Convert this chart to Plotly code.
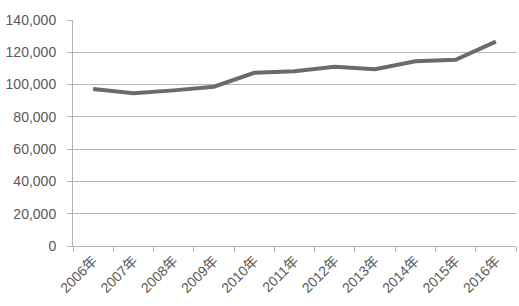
import plotly.graph_objects as go

years = ["2006年", "2007年", "2008年", "2009年", "2010年", "2011年",
         "2012年", "2013年", "2014年", "2015年", "2016年"]
values = [97200, 94600, 96400, 98700, 107300, 108300,
          111100, 109500, 114400, 115400, 126600]
y_ticks = [0, 20000, 40000, 60000, 80000, 100000, 120000, 140000]

font_family = "Liberation Sans, Noto Sans CJK SC, sans-serif"
text_color = "#595959"
grid_color = "#b4b4b4"

fig = go.Figure()
fig.add_trace(go.Scatter(
    x=years, y=values, mode="lines",
    line=dict(color="#6b6b6b", width=4),
    showlegend=False, hoverinfo="skip",
))

fig.update_layout(
    width=519, height=306,
    margin=dict(l=73, r=3, t=20, b=60),
    paper_bgcolor="white", plot_bgcolor="white",
    font=dict(family=font_family, size=14, color=text_color),
)
fig.update_xaxes(
    type="category",
    range=[-0.5, len(years) - 0.5],
    tickangle=-45,
    ticks="outside", ticklen=5, tickcolor=grid_color,
    tickson="boundaries",
    showline=True, linecolor=grid_color, linewidth=1,
    showgrid=False,
    tickfont=dict(size=14, color=text_color),
)
fig.update_yaxes(
    range=[0, 140000],
    tickvals=y_ticks,
    ticktext=[f"{v:,}" for v in y_ticks],
    ticks="outside", ticklen=5, tickcolor=grid_color,
    showline=True, linecolor=grid_color, linewidth=1,
    showgrid=True, gridcolor=grid_color, gridwidth=1,
    zeroline=False,
    ticklabelstandoff=8,
    tickfont=dict(size=14, color=text_color),
)

fig.write_html("out.html")
